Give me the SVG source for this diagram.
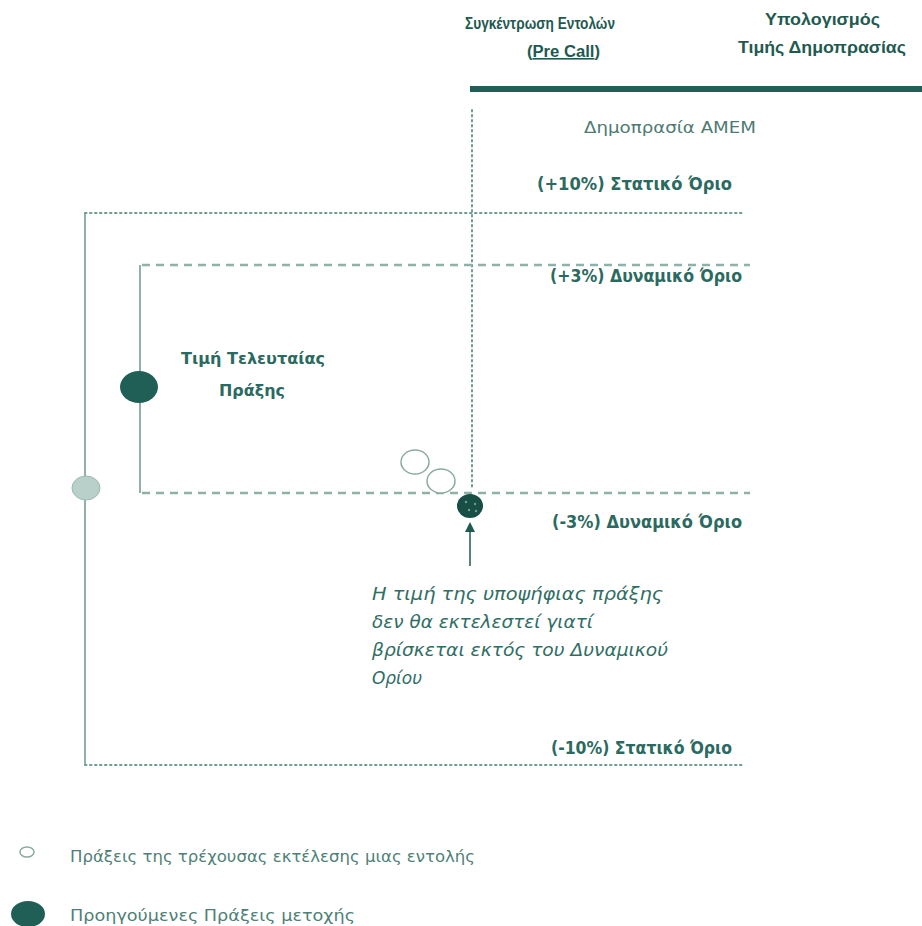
<svg xmlns="http://www.w3.org/2000/svg" width="922" height="926" viewBox="0 0 922 926">
<style>
text{font-family:"DejaVu Sans","Liberation Sans",sans-serif;fill:#2b6a60}
.h{font-family:"Liberation Sans","DejaVu Sans",sans-serif;font-size:16px;font-weight:700;fill:#1f5a50}
.lab{font-size:17px;font-weight:700;fill:#2b6a60}
.it{font-size:17px;font-style:italic;fill:#2f6e64}
.leg{font-size:16px;fill:#4f7f77}
.dot{stroke:#6f9c92;stroke-width:2;fill:none;stroke-dasharray:1.5 3.5;stroke-linecap:round}
.dd{stroke:#8fb1a9;stroke-width:2.5;fill:none;stroke-dasharray:8 6}
.solid{stroke:#8fb1a9;stroke-width:2;fill:none}
</style>
<defs>
<marker id="ah" markerWidth="10" markerHeight="10" refX="5" refY="5" orient="auto" markerUnits="userSpaceOnUse">
<path d="M0,0 L10,5 L0,10 z" fill="#1f5a50"/>
</marker>
</defs>
<rect width="922" height="926" fill="#ffffff"/>
<g id="header">
<text class="h" x="465" y="29" textLength="150" lengthAdjust="spacingAndGlyphs" style="font-size:17px">Συγκέντρωση Εντολών</text>
<text class="h" x="527" y="57" textLength="73" lengthAdjust="spacingAndGlyphs">(<tspan text-decoration="underline">Pre Call</tspan>)</text>
<text class="h" x="765" y="25" textLength="115" lengthAdjust="spacingAndGlyphs">Υπολογισμός</text>
<text class="h" x="738" y="53" textLength="168" lengthAdjust="spacingAndGlyphs">Τιμής Δημοπρασίας</text>
<rect x="470" y="86" width="452" height="6" fill="#1f5f55"/>
<text x="584" y="133" textLength="172" lengthAdjust="spacingAndGlyphs" style="font-size:16px;fill:#4f7a72">Δημοπρασία ΑΜΕΜ</text>
</g>
<g id="connectors">
<line class="dot" x1="472" y1="110" x2="472" y2="490"/>
<line class="solid" x1="85" y1="213" x2="85" y2="765"/>
<line class="dot" x1="85" y1="213" x2="745" y2="213"/>
<line class="dot" x1="85" y1="765" x2="745" y2="765"/>
<line class="solid" x1="140" y1="265" x2="140" y2="493"/>
<line class="dd" x1="142" y1="265" x2="750" y2="265"/>
<line class="dd" x1="142" y1="493" x2="750" y2="493"/>
<line x1="470" y1="566" x2="470" y2="527" stroke="#1f5a50" stroke-width="1.5" marker-end="url(#ah)"/>
</g>
<g id="labels">
<text class="lab" x="537" y="190" textLength="195" lengthAdjust="spacingAndGlyphs">(+10%)  Στατικό Όριο</text>
<text class="lab" x="550" y="282" textLength="192" lengthAdjust="spacingAndGlyphs">(+3%) Δυναμικό Όριο</text>
<text class="lab" x="552" y="528" textLength="190" lengthAdjust="spacingAndGlyphs">(-3%) Δυναμικό Όριο</text>
<text class="lab" x="551" y="754" textLength="181" lengthAdjust="spacingAndGlyphs">(-10%)  Στατικό Όριο</text>
</g>
<g id="last-trade">
<ellipse cx="139" cy="387" rx="19" ry="16" fill="#1f5f55"/>
<text class="lab" x="181" y="364" textLength="144" lengthAdjust="spacingAndGlyphs" style="font-size:16px">Τιμή Τελευταίας</text>
<text class="lab" x="219" y="396" textLength="66" lengthAdjust="spacingAndGlyphs" style="font-size:16px">Πράξης</text>
</g>
<g id="prev-point">
<ellipse cx="86" cy="488" rx="14" ry="12" fill="#b9cfca" stroke="#9dbab3" stroke-width="1"/>
</g>
<g id="current-trades">
<ellipse cx="415" cy="462" rx="14" ry="12" fill="#ffffff" stroke="#8aa9a2" stroke-width="1.5"/>
<ellipse cx="441" cy="481" rx="14" ry="12" fill="#ffffff" stroke="#8aa9a2" stroke-width="1.5"/>
</g>
<g id="candidate">
<ellipse cx="470" cy="506" rx="13" ry="12" fill="#174e45"/>
<circle cx="466" cy="502" r="1.2" fill="#6f9c92"/>
<circle cx="475" cy="504" r="1.2" fill="#6f9c92"/>
<circle cx="469" cy="510" r="1.2" fill="#6f9c92"/>
<circle cx="476" cy="511" r="1.2" fill="#6f9c92"/>
</g>
<g id="note">
<text class="it" x="372" y="600" textLength="291" lengthAdjust="spacingAndGlyphs">Η τιμή της υποψήφιας πράξης</text>
<text class="it" x="372" y="628" textLength="221" lengthAdjust="spacingAndGlyphs">δεν θα εκτελεστεί γιατί</text>
<text class="it" x="372" y="656" textLength="296" lengthAdjust="spacingAndGlyphs">βρίσκεται εκτός του Δυναμικού</text>
<text class="it" x="372" y="684" textLength="50" lengthAdjust="spacingAndGlyphs">Ορίου</text>
</g>
<g id="legend">
<ellipse cx="27" cy="852" rx="7" ry="5" fill="#ffffff" stroke="#8aa9a2" stroke-width="1.5"/>
<text class="leg" x="70" y="862" textLength="405" lengthAdjust="spacingAndGlyphs">Πράξεις της τρέχουσας εκτέλεσης μιας εντολής</text>
<ellipse cx="28" cy="914" rx="17" ry="13" fill="#1f5f55"/>
<text class="leg" x="70" y="921" textLength="285" lengthAdjust="spacingAndGlyphs">Προηγούμενες Πράξεις μετοχής</text>
</g>
</svg>
